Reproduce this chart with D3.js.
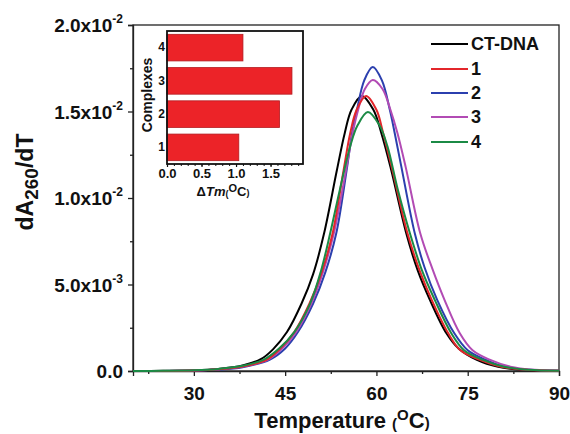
<!DOCTYPE html>
<html><head><meta charset="utf-8">
<script src="https://cdn.jsdelivr.net/npm/d3@7"></script>
<style>
body{margin:0;background:#fff;}
svg{display:block;font-family:"Liberation Sans",Arial,sans-serif;font-weight:bold;}
</style></head><body>
<svg id="c" width="570" height="434"></svg>
<script>
// ---------- DATA ----------
const seriesNames = ["CT-DNA", "1", "2", "3", "4"];
const seriesColors = ["#000000", "#e3262b", "#2b3fae", "#b24bb4", "#1b8a45"];
// [temperature (°C), dA260/dT]
const ctDna = [[20,0],[25,0.00001],[30,0.00004],[34,0.00012],[38,0.00032],[41,0.00068],[43,0.00125],[45.3,0.00225],[47.7,0.0039],[49.6,0.0056],[51.4,0.00796],[53.5,0.0116],[54.8,0.01376],[55.9,0.0151],[57.6,0.0159],[59.5,0.0151],[60.8,0.01376],[62.3,0.0118],[64.9,0.00796],[66.8,0.0058],[68.8,0.0041],[71.5,0.00218],[73.5,0.0013],[76.5,0.00064],[80,0.00024],[84,0.00007],[90,0.00001]];
const complex1 = [[20,0],[25,0.000005],[30,0.00003],[34,0.0001],[38,0.00026],[42,0.00066],[44.2,0.0013],[46.5,0.00225],[49.0,0.0039],[51.0,0.0057],[52.8,0.00796],[54.6,0.0116],[55.7,0.01376],[56.75,0.0151],[58.3,0.0159],[60.0,0.0151],[61.1,0.01376],[62.5,0.0118],[65.1,0.00796],[67.1,0.0058],[69.1,0.0041],[71.8,0.00218],[73.8,0.0012],[77,0.00064],[80.5,0.00024],[85,0.00006],[90,0.00001]];
const complex2 = [[20,0],[25,0.000005],[30,0.00003],[34,0.00008],[38,0.00022],[42.5,0.00066],[45,0.0013],[47.1,0.00225],[49.6,0.0039],[51.6,0.0057],[53.4,0.00796],[55.1,0.0116],[56.0,0.01376],[56.8,0.0151],[58.0,0.0168],[59.4,0.01757],[60.9,0.0168],[62.2,0.0151],[63.0,0.01376],[64.1,0.0118],[66.3,0.00796],[67.9,0.006],[70.0,0.0041],[72.8,0.00218],[75,0.0012],[78,0.00064],[81,0.00025],[85,0.00007],[90,0.00001]];
const complex3 = [[20,0],[25,0.000005],[30,0.00003],[34,0.0001],[38,0.00026],[42.2,0.00066],[44.5,0.0013],[46.8,0.00225],[49.3,0.0039],[51.2,0.0057],[53.0,0.00796],[55.0,0.0116],[56.1,0.01376],[57.0,0.0151],[58.1,0.0163],[59.4,0.01682],[61.0,0.0163],[62.3,0.0151],[63.45,0.01376],[64.8,0.0118],[67.2,0.00796],[69.2,0.0059],[71.2,0.0041],[73.7,0.00218],[75.8,0.0012],[78.7,0.00064],[82,0.00025],[86,0.00007],[90,0.00002]];
const complex4 = [[20,0],[25,0.00001],[30,0.00004],[34,0.00012],[38,0.0003],[41.5,0.00066],[44,0.0013],[46.5,0.00225],[49.1,0.0039],[50.9,0.0058],[52.4,0.00796],[54.0,0.0105],[55.7,0.013],[56.9,0.0142],[58.6,0.01497],[60.5,0.0142],[61.8,0.013],[63.5,0.0105],[65.5,0.00796],[67.5,0.0058],[69.6,0.0041],[72.3,0.00218],[74.4,0.0012],[77.5,0.00064],[81,0.00024],[85,0.00007],[90,0.00001]];
const seriesData = [ctDna, complex1, complex2, complex3, complex4];
const drawOrder = [0, 2, 3, 1, 4];

const xTicks = [30, 45, 60, 75, 90];
const xMinorTicks = [22.5, 37.5, 52.5, 67.5, 82.5];
const yTicks = [0, 0.005, 0.01, 0.015, 0.02];
const yTickMantissas = ["0.0", "5.0x10", "1.0x10", "1.5x10", "2.0x10"];
const yTickExponents = ["", "-3", "-2", "-2", "-2"];
const yMinorTicks = [0.0025, 0.0075, 0.0125, 0.0175];

// inset
const insetCategories = ["1", "2", "3", "4"];
const insetValues = [1.04, 1.63, 1.81, 1.10];
const insetXTicks = [0, 0.5, 1.0, 1.5];
const insetXTickLabels = ["0.0", "0.5", "1.0", "1.5"];

// ---------- CHART ----------
const svg = d3.select("#c");
const L = 133, R = 559, T = 25, B = 371;
const x = d3.scaleLinear().domain([20, 90]).range([L, R]);
const y = d3.scaleLinear().domain([0, 0.02]).range([B, T]);

// frame
svg.append("rect").attr("x", L).attr("y", T).attr("width", R - L).attr("height", B - T)
  .attr("fill", "none").attr("stroke", "#222").attr("stroke-width", 1.3);

// x axis
const gx = svg.append("g").attr("transform", `translate(0,${B})`)
  .call(d3.axisBottom(x).tickValues(xTicks).tickSize(5).tickPadding(10.5).tickFormat(d3.format("d")));
gx.select(".domain").attr("stroke", "#222").attr("stroke-width", 1.3);
gx.selectAll(".tick line").attr("stroke", "#222").attr("stroke-width", 1.3);
gx.selectAll("text").attr("font-size", 19).attr("font-weight", "bold").attr("fill", "#111");
svg.append("g").attr("transform", `translate(0,${B})`)
  .call(d3.axisBottom(x).tickValues(xMinorTicks).tickSize(3).tickFormat(""))
  .call(g => { g.select(".domain").remove(); g.selectAll("line").attr("stroke", "#222").attr("stroke-width", 1.3); });

// y axis
const gy = svg.append("g").attr("transform", `translate(${L},0)`)
  .call(d3.axisLeft(y).tickValues(yTicks).tickSize(5).tickPadding(5).tickFormat(""));
gy.select(".domain").attr("stroke", "#222").attr("stroke-width", 1.3);
gy.selectAll(".tick line").attr("stroke", "#222").attr("stroke-width", 1.3);
gy.selectAll(".tick text").each(function(d, i) {
  const t = d3.select(this).text(null).attr("font-size", 19).attr("font-weight", "bold").attr("fill", "#111").attr("dy", "0.36em");
  t.append("tspan").text(yTickMantissas[i]);
  if (yTickExponents[i]) t.append("tspan").attr("font-size", 12).attr("dy", "-0.75em").text(yTickExponents[i]);
});
svg.append("g").attr("transform", `translate(${L},0)`)
  .call(d3.axisLeft(y).tickValues(yMinorTicks).tickSize(3).tickFormat(""))
  .call(g => { g.select(".domain").remove(); g.selectAll("line").attr("stroke", "#222").attr("stroke-width", 1.3); });

// axis titles
const yt = svg.append("text").attr("transform", "translate(33,182) rotate(-90)")
  .attr("text-anchor", "middle").attr("font-size", 23).attr("fill", "#111");
yt.append("tspan").text("dA");
yt.append("tspan").attr("font-size", 19).attr("dy", 5).text("260");
yt.append("tspan").attr("dy", -5).text("/dT");

const xt = svg.append("text").attr("x", 342).attr("y", 428).attr("text-anchor", "middle")
  .attr("font-size", 22).attr("fill", "#111");
xt.append("tspan").text("Temperature ");
xt.append("tspan").attr("font-size", 15).attr("dy", 1).text("(");
xt.append("tspan").attr("font-size", 15).attr("dy", -9).text("O");
xt.append("tspan").attr("dy", 8).text("C");
xt.append("tspan").attr("font-size", 15).attr("dy", 0).text(")");

// curves
const line = d3.line().x(d => x(d[0])).y(d => y(d[1])).curve(d3.curveCatmullRom.alpha(0.5));
drawOrder.forEach(i => {
  svg.append("path").datum(seriesData[i]).attr("d", line)
    .attr("fill", "none").attr("stroke", seriesColors[i]).attr("stroke-width", 2);
});

// legend
const legY = [44, 69, 93, 117, 142];
seriesNames.forEach((n, i) => {
  svg.append("line").attr("x1", 431).attr("x2", 468).attr("y1", legY[i]).attr("y2", legY[i])
    .attr("stroke", seriesColors[i]).attr("stroke-width", 2);
  svg.append("text").attr("x", 471).attr("y", legY[i]).attr("dy", "0.36em")
    .attr("font-size", 18).attr("fill", "#111").text(n);
});

// ---------- INSET ----------
const iL = 167, iR = 303, iT = 31, iB = 164;
const ix = d3.scaleLinear().domain([0, 1.97]).range([iL, iR]);
const iy = d3.scaleBand().domain(insetCategories).range([iB, iT]).paddingInner(0.2).paddingOuter(0.1);
svg.append("rect").attr("x", iL).attr("y", iT).attr("width", iR - iL).attr("height", iB - iT)
  .attr("fill", "#fff");
svg.selectAll(".bar").data(insetCategories).enter().append("rect")
  .attr("x", ix(0)).attr("y", d => iy(d)).attr("height", iy.bandwidth())
  .attr("width", (d, i) => ix(insetValues[i]) - ix(0))
  .attr("fill", "#ec2328").attr("stroke", "#b31a1f").attr("stroke-width", 0.8);
svg.append("rect").attr("x", iL).attr("y", iT).attr("width", iR - iL).attr("height", iB - iT)
  .attr("fill", "none").attr("stroke", "#111").attr("stroke-width", 1.8);

const gix = svg.append("g").attr("transform", `translate(0,${iB})`)
  .call(d3.axisBottom(ix).tickValues(insetXTicks).tickSize(3).tickPadding(2).tickFormat((d, i) => insetXTickLabels[i]));
gix.select(".domain").remove();
gix.selectAll("line").attr("stroke", "#111").attr("stroke-width", 1.2);
gix.selectAll("text").attr("font-size", 13).attr("fill", "#111");
svg.append("g").attr("transform", `translate(0,${iB})`)
  .call(d3.axisBottom(ix).tickValues(d3.range(0.1, 1.95, 0.1)).tickSize(2).tickFormat(""))
  .call(g => { g.select(".domain").remove(); g.selectAll("line").attr("stroke", "#111").attr("stroke-width", 1); });

const giy = svg.append("g").attr("transform", `translate(${iL},0)`)
  .call(d3.axisLeft(iy).tickSize(0).tickPadding(2));
giy.select(".domain").remove();
giy.selectAll("text").attr("font-size", 12).attr("fill", "#111");

svg.append("text").attr("transform", "translate(152,95) rotate(-90)").attr("text-anchor", "middle")
  .attr("font-size", 14).attr("fill", "#111").text("Complexes");

const it = svg.append("text").attr("x", 223).attr("y", 196).attr("text-anchor", "middle")
  .attr("font-size", 13).attr("fill", "#111");
it.append("tspan").text("\u0394");
it.append("tspan").attr("font-style", "italic").text("Tm");
it.append("tspan").attr("font-size", 9).attr("dy", 1).text("(");
it.append("tspan").attr("font-size", 11).attr("dy", -5).text("O");
it.append("tspan").attr("dy", 4).text("C");
it.append("tspan").attr("font-size", 9).attr("dy", 0).text(")");
</script>
</body></html>
